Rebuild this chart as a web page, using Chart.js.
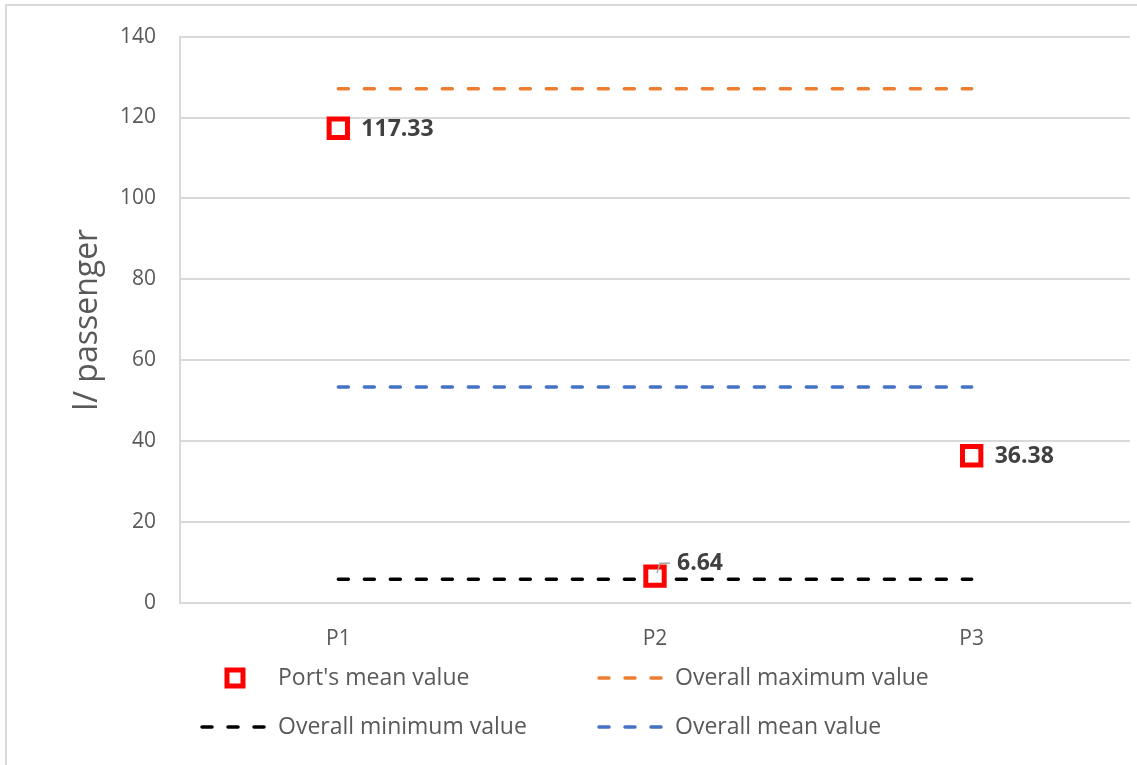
<!DOCTYPE html>
<html>
<head>
<meta charset="utf-8">
<script src="https://cdn.jsdelivr.net/npm/chart.js@4.4.1/dist/chart.umd.min.js"></script>
<style>
  html, body { margin: 0; padding: 0; background: #fff; }
  #wrap { width: 1137px; height: 765px; position: relative; }
</style>
</head>
<body>
<div id="wrap"><canvas id="chart" width="1137" height="765"></canvas></div>
<script>
const categories = ['P1', 'P2', 'P3'];
const portMeans = [117.33, 6.64, 36.38];
const overallMax = [127.1, 127.1, 127.1];
const overallMean = [53.4, 53.4, 53.4];
const overallMin = [5.9, 5.9, 5.9];
const yTicks = [0, 20, 40, 60, 80, 100, 120, 140];

const FONT = "'Open Sans', 'Liberation Sans', sans-serif";

// outer frame like the office chart border
const framePlugin = {
  id: 'frame',
  beforeDraw(chart) {
    const ctx = chart.ctx;
    ctx.save();
    ctx.fillStyle = '#fff';
    ctx.fillRect(0, 0, chart.width, chart.height);
    ctx.strokeStyle = '#d9d9d9';
    ctx.lineWidth = 2;
    ctx.strokeRect(6, 5, chart.width + 20, chart.height + 20);
    ctx.restore();
  }
};

// value labels next to the red squares
const labelPlugin = {
  id: 'valueLabels',
  afterDatasetsDraw(chart) {
    const ctx = chart.ctx;
    const meta = chart.getDatasetMeta(0);
    ctx.save();
    ctx.font = "bold 23px " + FONT;
    ctx.fillStyle = '#404040';
    ctx.textBaseline = 'middle';
    ctx.textAlign = 'left';
    meta.data.forEach((pt, i) => {
      const txt = portMeans[i].toFixed(2);
      if (i === 1) {
        // label pushed up with a small leader line
        ctx.strokeStyle = '#a6a6a6';
        ctx.lineWidth = 1.5;
        ctx.beginPath();
        ctx.moveTo(pt.x + 2, pt.y - 3);
        ctx.lineTo(pt.x + 5, pt.y - 13);
        ctx.lineTo(pt.x + 15, pt.y - 13);
        ctx.stroke();
        ctx.fillText(txt, pt.x + 22, pt.y - 13);
      } else {
        ctx.fillText(txt, pt.x + 23, pt.y + 1);
      }
    });
    ctx.restore();
  }
};

// two-column legend under the plot
const legendPlugin = {
  id: 'sideLegend',
  afterDraw(chart) {
    const ctx = chart.ctx;
    const slots = [
      { ds: 0, x: 200, y: 678 },
      { ds: 1, x: 597, y: 678 },
      { ds: 3, x: 200, y: 727 },
      { ds: 2, x: 597, y: 727 }
    ];
    ctx.save();
    ctx.font = "23px " + FONT;
    ctx.textBaseline = 'middle';
    slots.forEach(s => {
      const d = chart.data.datasets[s.ds];
      if (s.ds === 0) {
        ctx.strokeStyle = d.pointBorderColor;
        ctx.fillStyle = '#fff';
        ctx.lineWidth = 5;
        ctx.beginPath();
        ctx.rect(s.x + 27, s.y - 8, 16, 16);
        ctx.fill();
        ctx.stroke();
      } else {
        ctx.strokeStyle = d.borderColor;
        ctx.lineWidth = d.borderWidth;
        ctx.lineCap = 'round';
        ctx.setLineDash(d.borderDash);
        ctx.beginPath();
        ctx.moveTo(s.x + 2, s.y);
        ctx.lineTo(s.x + 68, s.y);
        ctx.stroke();
        ctx.setLineDash([]);
      }
      ctx.fillStyle = '#595959';
      ctx.fillText(d.label, s.x + 78, s.y);
    });
    ctx.restore();
  }
};

const dash = [10, 16];

new Chart(document.getElementById('chart'), {
  type: 'line',
  data: {
    labels: categories,
    datasets: [
      {
        label: "Port's mean value",
        data: portMeans,
        showLine: false,
        pointStyle: 'rect',
        pointRadius: 13,
        pointHoverRadius: 13,
        pointBorderWidth: 5,
        pointBorderColor: '#ff0000',
        pointBackgroundColor: '#ffffff',
        order: 0
      },
      {
        label: 'Overall maximum value',
        data: overallMax,
        borderColor: '#ed7d31',
        borderWidth: 3.5,
        borderDash: dash,
        borderCapStyle: 'round',
        pointRadius: 0,
        order: 1
      },
      {
        label: 'Overall mean value',
        data: overallMean,
        borderColor: '#4472c4',
        borderWidth: 3.5,
        borderDash: dash,
        borderCapStyle: 'round',
        pointRadius: 0,
        order: 1
      },
      {
        label: 'Overall minimum value',
        data: overallMin,
        borderColor: '#000000',
        borderWidth: 3.5,
        borderDash: dash,
        borderCapStyle: 'round',
        pointRadius: 0,
        order: 1
      }
    ]
  },
  options: {
    responsive: false,
    animation: false,
    events: [],
    layout: { autoPadding: false, padding: { left: 0, top: 30, right: 7, bottom: 0 } },
    plugins: {
      legend: { display: false },
      tooltip: { enabled: false }
    },
    scales: {
      x: {
        offset: true,
        grid: { display: false, drawTicks: false },
        border: { color: '#d9d9d9', width: 2 },
        ticks: { color: '#595959', font: { family: FONT, size: 21 }, padding: 23 },
        afterFit(scale) { scale.height = 162; }
      },
      y: {
        min: 0,
        max: 140,
        afterBuildTicks(scale) { scale.ticks = yTicks.map(v => ({ value: v })); },
        grid: { color: '#d9d9d9', lineWidth: 2, drawTicks: false },
        border: { color: '#d9d9d9', width: 2 },
        ticks: { color: '#595959', font: { family: FONT, size: 21 }, padding: 24 },
        title: {
          display: true,
          text: 'l/ passenger',
          color: '#595959',
          font: { family: FONT, size: 32 },
          padding: { top: 69 }
        },
        afterFit(scale) { scale.width = 180; }
      }
    }
  },
  plugins: [framePlugin, labelPlugin, legendPlugin]
});
</script>
</body>
</html>
